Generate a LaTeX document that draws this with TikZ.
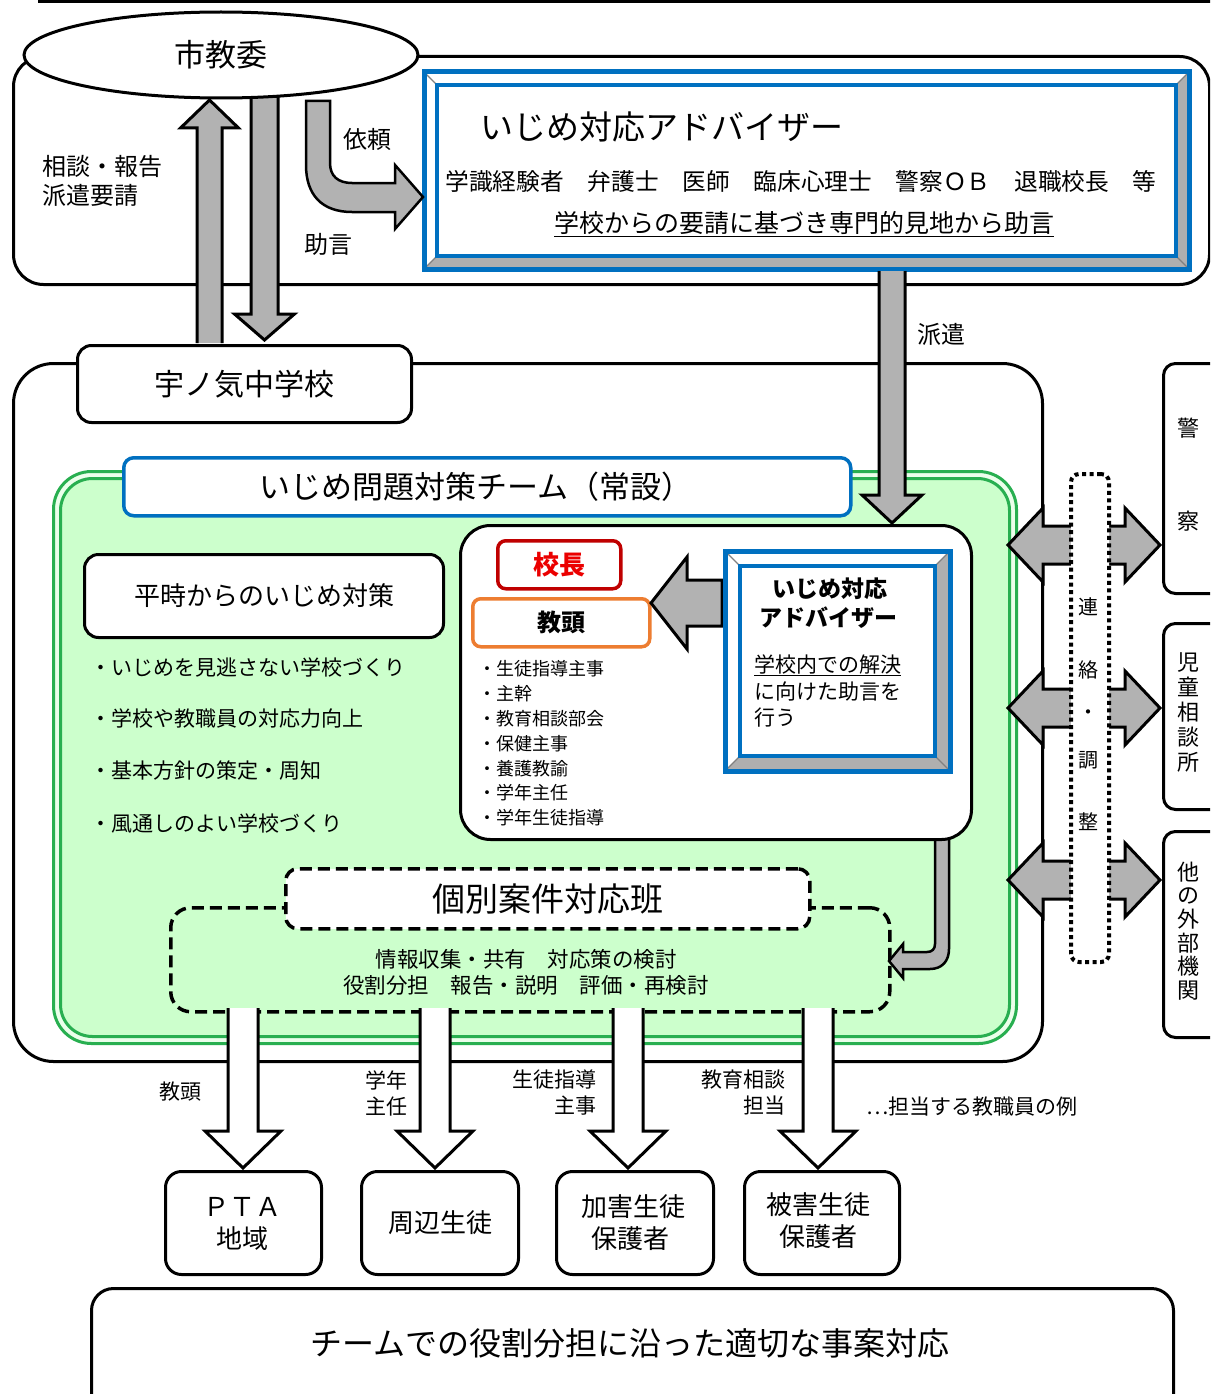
\documentclass[tikz,border=0pt]{standalone}
\usepackage{fontspec}
\setmainfont{Noto Sans CJK JP}
\usetikzlibrary{shapes.geometric,calc}
\definecolor{agray}{RGB}{178,178,178}
\definecolor{bgray}{RGB}{175,175,175}
\definecolor{mblue}{RGB}{0,112,192}
\definecolor{lgreen}{RGB}{204,255,204}
\definecolor{pgreen}{RGB}{235,255,235}
\definecolor{dgreen}{RGB}{40,175,80}
\definecolor{kred}{RGB}{192,0,0}
\definecolor{kredtxt}{RGB}{235,0,0}
\definecolor{korange}{RGB}{237,125,49}
\newcommand{\fsz}[1]{\fontsize{#1}{#1}\selectfont}
\newcommand{\fszb}[2]{\fontsize{#1}{#2}\selectfont}
% bevelled double blue frame
\newcommand{\bevelframe}[5]{%
  \fill[white] (#1,#2) rectangle (#3,#4);
  \fill[bgray] (#3,#2) -- (#3,#4) -- ({#3-#5},{#4-#5}) -- ({#3-#5},{#2+#5}) -- cycle;
  \fill[bgray] (#1,#4) -- (#3,#4) -- ({#3-#5},{#4-#5}) -- ({#1+#5},{#4-#5}) -- cycle;
  \draw[gray,line width=1.2pt] (#1,#2) -- ({#1+#5},{#2+#5}) (#3,#2) -- ({#3-#5},{#2+#5})
     (#1,#4) -- ({#1+#5},{#4-#5}) (#3,#4) -- ({#3-#5},{#4-#5});
  \draw[mblue,line width=5pt] (#1,#2) rectangle (#3,#4);
  \draw[mblue,line width=4pt] ({#1+#5},{#2+#5}) rectangle ({#3-#5},{#4-#5});
}
% vertical block arrow, open at tail: fill, x, ytail, ytip, half shaft, half head, head length
\newcommand{\varr}[7]{%
  \pgfmathsetmacro{\hb}{#4-#7*sign(#4-#3)}%
  \fill[#1] ({#2-#5},#3) -- ({#2-#5},\hb) -- ({#2-#6},\hb) -- (#2,#4) -- ({#2+#6},\hb) -- ({#2+#5},\hb) -- ({#2+#5},#3) -- cycle;
  \draw[line width=3pt,line join=miter] ({#2-#5},#3) -- ({#2-#5},\hb) -- ({#2-#6},\hb) -- (#2,#4) -- ({#2+#6},\hb) -- ({#2+#5},\hb) -- ({#2+#5},#3);
}
% horizontal block arrow: fill, y, xtail, xtip, half shaft, half head, head length
\newcommand{\harr}[7]{%
  \pgfmathsetmacro{\hb}{#4-#7*sign(#4-#3)}%
  \draw[fill=#1,line width=3pt,line join=miter] (#3,{#2-#5}) -- (\hb,{#2-#5}) -- (\hb,{#2-#6}) -- (#4,#2) -- (\hb,{#2+#6}) -- (\hb,{#2+#5}) -- (#3,{#2+#5}) -- cycle;
}
% double horizontal block arrow: y, xleft tip, xright tip, half shaft, half head, head length
\newcommand{\dharr}[6]{%
  \draw[fill=agray,line width=3pt,line join=miter] (#2,#1) -- ({#2+#6},{#1-#5}) -- ({#2+#6},{#1-#4}) -- ({#3-#6},{#1-#4}) -- ({#3-#6},{#1-#5}) -- (#3,#1) -- ({#3-#6},{#1+#5}) -- ({#3-#6},{#1+#4}) -- ({#2+#6},{#1+#4}) -- ({#2+#6},{#1+#5}) -- cycle;
}
\begin{document}
\begin{tikzpicture}[x=1pt,y=-1pt,
  blk/.style={draw=black,line width=3pt,fill=white,rounded corners=#1,inner sep=0pt},
  blk/.default=14pt,
  garrow/.style={draw=black,line width=2.5pt,fill=agray,line join=miter},
  t/.style={inner sep=0pt,font=\fsz{#1}},
  t/.default=22,
  dashbox/.style={draw=black,dash pattern=on 12pt off 6pt,line width=3.5pt,inner sep=0pt},
]
\clip (0,0) rectangle (1210,1394);
\fill[white] (0,0) rectangle (1210,1394);

% top line (edge of the box above)
\coordinate (topL) at (38,1.5);
\coordinate (topR) at (1212,1.5);
\draw[line width=4pt] (topL) -- (topR);

% ---------------- city board area ----------------
\node[blk=30pt,minimum width=1196pt,minimum height=228pt,anchor=north west] (cityarea) at (12,55) {};

% adviser (top)
\bevelframe{424}{72}{1189}{269}{13}
\node[inner sep=0pt,minimum width=765pt,minimum height=197pt,anchor=north west] (advbox) at (424,72) {};
\node[t=33,anchor=west] (advtitle) at (480,127) {いじめ対応アドバイザー};
\node[t=23.7] (advmembers) at (801,181) {学識経験者　弁護士　医師　臨床心理士　警察ＯＢ　退職校長　等};
\node[t=25] (advrole) at (804,224) {\underline{学校からの要請に基づき専門的見地から助言}};

% arrows city <-> school
\varr{agray}{209.5}{343}{100}{12.5}{29}{28}
\varr{agray}{264.5}{90}{340}{13.5}{30}{26}

% city board ellipse
\node[ellipse,draw=black,line width=3pt,fill=white,minimum width=394pt,minimum height=86pt,inner sep=0pt,font=\fsz{31}] (kyoi) at (221,55) {市教委};

% bent arrow (request)
\draw[garrow] (306,101) -- (306,165) .. controls (306,195) and (322,212) .. (352,212) -- (395,212) -- (395,229) -- (423,197) -- (395,165) -- (395,183) -- (352,183) .. controls (338,183) and (330,176) .. (330,163) -- (330,101) -- cycle;

\node[t=24,anchor=west] (lblsodan) at (42,166) {相談・報告};
\node[t=24,anchor=west] (lblyosei) at (42,195) {派遣要請};
\node[t=24] (lblirai) at (367,139) {依頼};
\node[t=24] (lbljogen) at (328,244) {助言};
\node[t=24] (lblhaken) at (941,334) {派遣};

% ---------------- school area ----------------
\node[blk=40pt,minimum width=1029pt,minimum height=698pt,anchor=north west] (schoolarea) at (12,362) {};
\node[blk=14pt,minimum width=334pt,minimum height=77pt,anchor=north west,font=\fsz{30}] (school) at (76,344) {宇ノ気中学校};

% team (green)
\node[draw=dgreen,line width=3pt,fill=pgreen,rounded corners=38pt,minimum width=963pt,minimum height=572pt,anchor=north west] (teamouter) at (52,470) {};
\node[draw=dgreen,line width=3pt,fill=lgreen,rounded corners=32pt,minimum width=949pt,minimum height=558pt,anchor=north west] (team) at (59,477) {};
\node[draw=mblue,line width=3.5pt,fill=white,rounded corners=10pt,minimum width=727pt,minimum height=58pt,anchor=north west] (teamtitlebox) at (122,456) {};
\node[t=31] (teamtitle) at (476,487) {いじめ問題対策チーム（常設）};

% everyday measures
\node[blk=14pt,minimum width=359pt,minimum height=83pt,anchor=north west,font=\fsz{26}] (heiji) at (83,553) {平時からのいじめ対策};
\foreach \yy/\ss [count=\i] in {667/・いじめを見逃さない学校づくり,719/・学校や教職員の対応力向上,771/・基本方針の策定・周知,823/・風通しのよい学校づくり}
  \node[t=21,anchor=west] (heijiitem\i) at (90,\yy) {\ss};

% small bent arrow from core box to case team
\draw[garrow] (935,830) -- (935,944) .. controls (935,949) and (932,952) .. (927,952) -- (903,952) -- (903,944) -- (889,961) -- (903,978) -- (903,969) -- (930,969) .. controls (942,969) and (949,961) .. (949,949) -- (949,830) -- cycle;

% core box
\node[blk=30pt,minimum width=511pt,minimum height=314pt,anchor=north west] (core) at (459,524) {};
\varr{agray}{892}{271}{523}{13}{30}{28}
\node[coordinate] (hakenend) at (892,523) {};

\node[draw=kred,line width=3.5pt,fill=white,rounded corners=8pt,minimum width=123pt,minimum height=48pt,anchor=north west,font=\fsz{26}\bfseries,text=kredtxt,inner sep=0pt] (kocho) at (496,539) {校長};
\node[draw=korange,line width=3.5pt,fill=white,rounded corners=8pt,minimum width=177pt,minimum height=48pt,anchor=north west,font=\fsz{24}\bfseries,inner sep=0pt] (kyoto) at (471,597) {教頭};
\foreach \ss [count=\i] in {生徒指導主事,主幹,教育相談部会,保健主事,養護教諭,学年主任,学年生徒指導}
  \node[t=18,anchor=west] (member\i) at (478,{669+24.8*(\i-1)}) {・\ss};

% arrow adviser -> kyoto
\harr{agray}{603}{722}{651}{23}{46}{36}

% inner adviser
\bevelframe{725}{551}{950}{771}{15}
\node[inner sep=0pt,minimum width=225pt,minimum height=220pt,anchor=north west] (coreadv) at (725,551) {};
\node[t=23,font=\fsz{23}\bfseries] (coreadv1) at (830,589) {いじめ対応};
\node[t=23,font=\fsz{23}\bfseries] (coreadv2) at (828,618) {アドバイザー};
\node[t=21,anchor=west] (coreadv3) at (754,665) {\underline{学校内での解決}};
\node[t=21,anchor=west] (coreadv4) at (754,692) {に向けた助言を};
\node[t=21,anchor=west] (coreadv5) at (754,718) {行う};

% case team (dashed)
\node[dashbox,rounded corners=20pt,minimum width=719pt,minimum height=104pt,anchor=north west] (casearea) at (169,906) {};
\node[dashbox,fill=white,rounded corners=12pt,minimum width=524pt,minimum height=60pt,anchor=north west,font=\fsz{33}] (casetitle) at (284,867) {個別案件対応班};
\node[t=21.5] (caseline1) at (526,959) {情報収集・共有　対応策の検討};
\node[t=21.5] (caseline2) at (526,985) {役割分担　報告・説明　評価・再検討};

% ---------------- external agencies ----------------
\dharr{545}{1008}{1160}{19}{37}{35}
\dharr{708}{1008}{1160}{19}{37}{35}
\dharr{880}{1008}{1160}{19}{37}{35}
\node[draw=black,dash pattern=on 4pt off 3.5pt,line width=4pt,fill=white,rounded corners=8pt,minimum width=38pt,minimum height=488pt,anchor=north west,inner sep=0pt] (renraku) at (1069,472) {};
\foreach \ss/\yy [count=\i] in {連/607,絡/670,・/715,調/760,整/822}
  \node[t=20] (renraku\i) at (1088,\yy) {\ss};

\node[blk=12pt,minimum width=70pt,minimum height=230pt,anchor=north west] (police) at (1162,362) {};
\node[t=22] (police1) at (1188,428) {警};
\node[t=22] (police2) at (1188,521) {察};
\node[blk=12pt,minimum width=70pt,minimum height=186pt,anchor=north west] (jido) at (1162,622) {};
\node[inner sep=0pt,align=center,font=\fszb{22}{25}] (jidotext) at (1188,712) {児\\童\\相\\談\\所};
\node[blk=12pt,minimum width=70pt,minimum height=206pt,anchor=north west] (other) at (1162,830) {};
\node[inner sep=0pt,align=center,font=\fszb{22}{23.6}] (othertext) at (1188,931) {他\\の\\外\\部\\機\\関};

% ---------------- outward arrows ----------------
\varr{white}{243}{1008}{1168}{15}{38}{37}
\varr{white}{435}{1008}{1168}{15}{38}{37}
\varr{white}{628}{1008}{1168}{15}{38}{37}
\varr{white}{818}{1008}{1168}{15}{38}{37}

\node[t=21] (role1) at (180,1092) {教頭};
\node[t=21,align=center,font=\fszb{21}{26}] (role2) at (386,1093) {学年\\主任};
\node[t=21,align=right,font=\fszb{21}{26},anchor=east] (role3) at (597,1093) {生徒指導\\主事};
\node[t=21,align=right,font=\fszb{21}{26},anchor=east] (role4) at (786,1093) {教育相談\\担当};
\node[t=21,anchor=west] (rolenote) at (866,1107) {…担当する教職員の例};

\node[blk=16pt,minimum width=156pt,minimum height=103pt,anchor=north west] (pta) at (164,1170) {};
\node[t=26] (pta1) at (242,1207) {ＰＴＡ};
\node[t=26] (pta2) at (242,1239) {地域};
\node[blk=16pt,minimum width=157pt,minimum height=103pt,anchor=north west,font=\fsz{26}] (shuhen) at (360,1170) {周辺生徒};
\node[blk=16pt,minimum width=157pt,minimum height=103pt,anchor=north west] (kagai) at (555,1170) {};
\node[t=26] (kagai1) at (633,1207) {加害生徒};
\node[t=26] (kagai2) at (630,1239) {保護者};
\node[blk=16pt,minimum width=155pt,minimum height=103pt,anchor=north west] (higai) at (743,1170) {};
\node[t=26] (higai1) at (818,1205) {被害生徒};
\node[t=26] (higai2) at (818,1237) {保護者};

% bottom outcome
\node[blk=22pt,minimum width=1082pt,minimum height=150pt,anchor=north west] (outcome) at (90,1287) {};
\node[t=32] (outcometext) at (630,1343) {チームでの役割分担に沿った適切な事案対応};
\end{tikzpicture}
\end{document}
